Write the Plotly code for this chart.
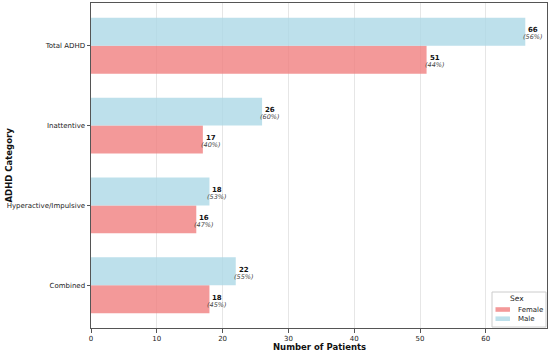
import plotly.graph_objects as go

categories = ["Total ADHD", "Inattentive", "Hyperactive/Impulsive", "Combined"]
female = [51, 17, 16, 18]
male = [66, 26, 18, 22]
female_pct = [44, 40, 47, 45]
male_pct = [56, 60, 53, 55]
series_names = ["Female", "Male"]
legend_title = "Sex"

FEMALE_COLOR = "rgba(240,128,128,0.8)"
MALE_COLOR = "rgba(173,216,230,0.8)"
FONT = "DejaVu Sans"

W, H = 550, 352
ML, MR, MT, MB = 91, 3, 3, 24
PW, PH = W - ML - MR, H - MT - MB


def px_x(p):
    return (p - ML) / PW


def px_y(p):
    return (H - MB - p) / PH


pos = list(range(len(categories)))

fig = go.Figure()
fig.add_trace(go.Bar(
    y=pos, x=female, orientation="h", name=series_names[0],
    marker=dict(color=FEMALE_COLOR, line=dict(width=0)),
    width=0.35, offset=0.0, hoverinfo="x+name",
))
fig.add_trace(go.Bar(
    y=pos, x=male, orientation="h", name=series_names[1],
    marker=dict(color=MALE_COLOR, line=dict(width=0)),
    width=0.35, offset=-0.35, hoverinfo="x+name",
))

annotations = []
for i, (f, m, fp, mp) in enumerate(zip(female, male, female_pct, male_pct)):
    for val, pct, yc in ((m, mp, i - 0.175), (f, fp, i + 0.175)):
        annotations.append(dict(
            x=val, y=yc, xref="x", yref="y", xanchor="center", yanchor="middle",
            xshift=8, yshift=1.5, showarrow=False,
            text=f"<b>{val}</b>",
            font=dict(family=FONT, size=7, color="#111"),
        ))
        annotations.append(dict(
            x=val, y=yc, xref="x", yref="y", xanchor="center", yanchor="middle",
            xshift=8, yshift=-5.5, showarrow=False,
            text=f"<i>({pct}%)</i>",
            font=dict(family=FONT, size=6.5, color="#444"),
        ))

annotations.append(dict(
    text="<b>Number of Patients</b>", xref="paper", yref="paper",
    x=0.5, y=0, yshift=-19, xanchor="center", yanchor="middle", showarrow=False,
    font=dict(family=FONT, size=8.5, color="#111"),
))
annotations.append(dict(
    text="<b>ADHD Category</b>", xref="paper", yref="paper",
    x=0, xshift=-83, y=0.5, xanchor="center", yanchor="middle", showarrow=False,
    textangle=-90, font=dict(family=FONT, size=8.5, color="#111"),
))

# compact legend box drawn like the reference
shapes = [dict(
    type="rect", xref="paper", yref="paper", layer="above",
    x0=px_x(492), x1=px_x(546), y0=px_y(327), y1=px_y(292),
    line=dict(color="#cccccc", width=1), fillcolor="rgba(255,255,255,0.85)",
)]
annotations.append(dict(
    text=legend_title, xref="paper", yref="paper", x=px_x(516.5), y=px_y(298.5),
    xanchor="center", yanchor="middle", showarrow=False,
    font=dict(family=FONT, size=7.5, color="#222"),
))
for name, color, cy in ((series_names[0], FEMALE_COLOR, 309.5), (series_names[1], MALE_COLOR, 318.7)):
    shapes.append(dict(
        type="rect", xref="paper", yref="paper", layer="above",
        x0=px_x(495.5), x1=px_x(510), y0=px_y(cy + 2.3), y1=px_y(cy - 2.3),
        line=dict(width=0), fillcolor=color,
    ))
    annotations.append(dict(
        text=name, xref="paper", yref="paper", x=px_x(515.5), y=px_y(cy),
        xanchor="left", yanchor="middle", showarrow=False,
        font=dict(family=FONT, size=7, color="#222"),
    ))

fig.update_layout(
    width=W, height=H,
    margin=dict(l=ML, r=MR, t=MT, b=MB, autoexpand=False),
    paper_bgcolor="white", plot_bgcolor="white",
    barmode="overlay",
    font=dict(family=FONT, size=7, color="#222"),
    annotations=annotations,
    shapes=shapes,
    showlegend=False,
)
fig.update_xaxes(
    range=[0, 69.3], tickvals=[0, 10, 20, 30, 40, 50, 60],
    showgrid=True, gridcolor="#e6e6e6", gridwidth=1,
    showline=True, linecolor="#555", linewidth=1, mirror=True,
    ticks="outside", ticklen=3.5, tickcolor="#555",
    tickfont=dict(family=FONT, size=7, color="#222"),
    automargin=False, zeroline=False,
)
fig.update_yaxes(
    range=[3.535, -0.535], tickvals=pos, ticktext=categories,
    showgrid=False,
    showline=True, linecolor="#555", linewidth=1, mirror=True,
    ticks="outside", ticklen=3.5, tickcolor="#555",
    tickfont=dict(family=FONT, size=7, color="#222"),
    automargin=False, zeroline=False,
)

fig.write_html(
    "out.html",
    config={"displayModeBar": False},
    post_script="document.body.style.margin='0';document.body.style.padding='0';",
)
